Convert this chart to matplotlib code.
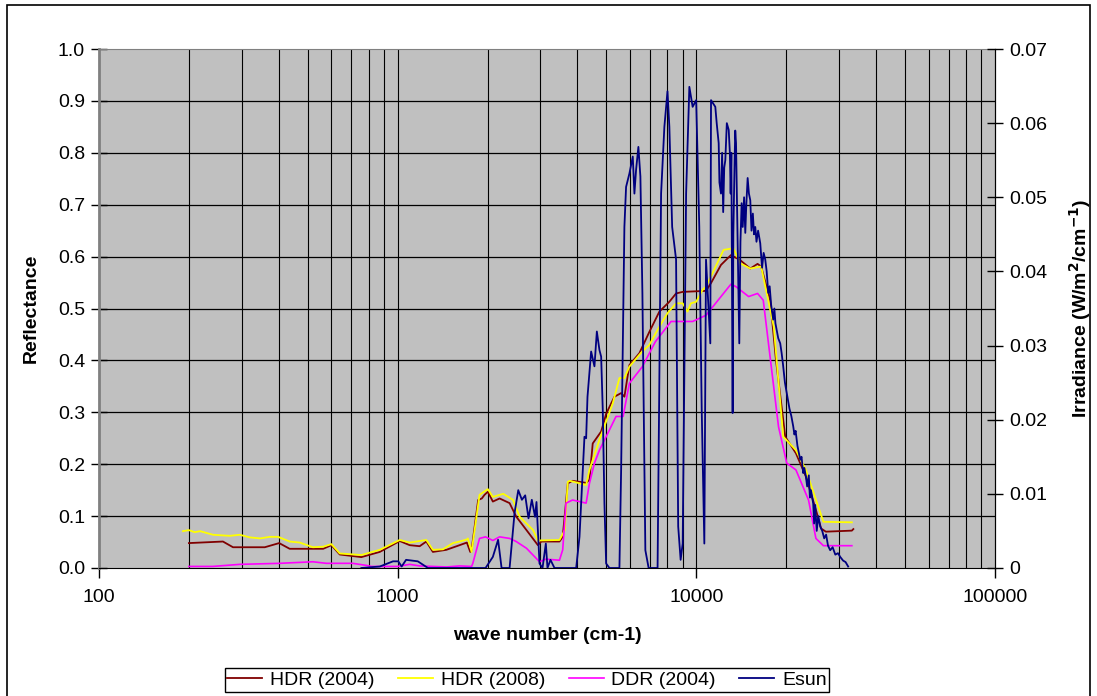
import numpy as np
import matplotlib
matplotlib.use("Agg")
import matplotlib.pyplot as plt
from matplotlib.patches import Rectangle
from matplotlib.ticker import FixedLocator, FuncFormatter, NullLocator

plt.rcParams['font.family'] = ['Liberation Sans', 'DejaVu Sans']

# HDR (2004) reflectance
hdr04_wn = [200, 260, 281, 359, 401, 435, 563, 600, 640, 756, 871, 1016, 1097, 1185,
            1247, 1312, 1455, 1612, 1705, 1750, 1768, 1860, 1913, 1954, 2004, 2083,
            2194, 2370, 2494, 2700, 2948, 3026, 3481, 3569, 3712, 3850, 4276, 4386,
            4499, 4801, 4989, 5318, 5600, 5743, 5969, 6447, 6962, 7520, 8122, 8554,
            9001, 10775, 11199, 12093, 13062, 14035, 15158, 16032, 16480, 17679,
            18476, 19847, 21552, 23278, 25138, 26181, 27147, 33166, 33550]
hdr04_r = [0.048, 0.051, 0.040, 0.040, 0.048, 0.037, 0.037, 0.044, 0.026, 0.021, 0.031,
           0.052, 0.044, 0.042, 0.051, 0.031, 0.035, 0.044, 0.049, 0.031, 0.035, 0.131,
           0.134, 0.141, 0.147, 0.128, 0.134, 0.125, 0.099, 0.073, 0.044, 0.051, 0.051,
           0.060, 0.163, 0.168, 0.164, 0.170, 0.240, 0.263, 0.297, 0.330, 0.337, 0.330,
           0.391, 0.414, 0.455, 0.494, 0.513, 0.529, 0.532, 0.534, 0.549, 0.584, 0.603,
           0.593, 0.577, 0.586, 0.581, 0.516, 0.401, 0.253, 0.221, 0.176, 0.112, 0.076,
           0.070, 0.072, 0.075]

# HDR (2008) reflectance
hdr08_wn = [191, 200, 209, 218, 241, 274, 296, 320, 346, 373, 398, 435, 470, 520, 563,
            600, 640, 756, 871, 1016, 1097, 1247, 1312, 1418, 1531, 1612, 1705, 1718,
            1768, 1880, 2004, 2083, 2258, 2436, 2559, 2841, 2948, 3481, 3628, 3712,
            3769, 4276, 4386, 4738, 5249, 5527, 5743, 5969, 6513, 6962, 7520, 8006,
            8554, 9001, 9343, 9590, 9988, 10495, 10775, 12340, 13299, 14035, 15158,
            16480, 18163, 19543, 21552, 23278, 26632, 33166]
hdr08_r = [0.071, 0.073, 0.069, 0.071, 0.064, 0.062, 0.064, 0.059, 0.057, 0.060, 0.060,
           0.051, 0.049, 0.040, 0.041, 0.046, 0.028, 0.025, 0.035, 0.054, 0.049, 0.054,
           0.035, 0.036, 0.048, 0.051, 0.055, 0.057, 0.031, 0.141, 0.152, 0.137, 0.143,
           0.131, 0.099, 0.073, 0.053, 0.054, 0.073, 0.166, 0.168, 0.160, 0.189, 0.247,
           0.317, 0.366, 0.366, 0.388, 0.414, 0.430, 0.465, 0.491, 0.510, 0.510, 0.494,
           0.510, 0.513, 0.536, 0.542, 0.613, 0.616, 0.587, 0.577, 0.581, 0.465, 0.253,
           0.227, 0.189, 0.089, 0.088]

# DDR (2004) reflectance
ddr04_wn = [200, 240, 296, 403, 520, 577, 707, 786, 817, 1000, 1097, 1185, 1312, 1458,
            1612, 1768, 1785, 1880, 1969, 2083, 2194, 2370, 2494, 2700, 2985, 3134,
            3481, 3569, 3663, 3850, 4276, 4386, 4559, 4738, 4989, 5384, 5685, 5969,
            6598, 7291, 8228, 9719, 10775, 13062, 13580, 14967, 16032, 16752, 18846,
            20080, 21552, 23750, 25138, 26632, 33166]
ddr04_r = [0.003, 0.003, 0.007, 0.009, 0.012, 0.009, 0.009, 0.005, 0.003, 0.003, 0.007,
           0.004, 0.003, 0.002, 0.004, 0.003, 0.009, 0.057, 0.060, 0.053, 0.060, 0.057,
           0.051, 0.038, 0.012, 0.017, 0.015, 0.035, 0.125, 0.131, 0.125, 0.163, 0.202,
           0.227, 0.253, 0.292, 0.292, 0.356, 0.388, 0.436, 0.475, 0.475, 0.487, 0.547,
           0.542, 0.523, 0.529, 0.516, 0.272, 0.202, 0.189, 0.131, 0.057, 0.043, 0.043]

# Esun irradiance (W/m2/cm-1)
esun_wn = [756, 871, 965, 1005, 1031, 1067, 1168, 1263, 1969, 2083, 2169, 2228, 2370,
           2462, 2534, 2606, 2673, 2742, 2813, 2884, 2916, 2985, 3055, 3134, 3174, 3248,
           3350, 3960, 4062, 4157, 4221, 4276, 4321, 4444, 4559, 4644, 4738, 4801, 4861,
           4924, 4989, 5117, 5527, 5600, 5743, 5818, 5969, 6126, 6204, 6284, 6397, 6497,
           6598, 6750, 6923, 7417, 7621, 7816, 8006, 8122, 8300, 8554, 8695, 8860, 9001,
           9242, 9476, 9719, 9988, 10230, 10424, 10636, 10775, 11138, 11199, 11575,
           11700, 11880, 11950, 12093, 12200, 12300, 12400, 12503, 12650, 12835, 12950,
           13028, 13100, 13230, 13300, 13433, 13500, 13580, 13700, 13926, 14050, 14179,
           14300, 14450, 14585, 14700, 14853, 15000, 15158, 15300, 15462, 15600, 15752,
           15900, 16100, 16368, 16600, 16800, 17011, 17200, 17408, 17600, 17800, 18090,
           18250, 18400, 18600, 18800, 19093, 19300, 19500, 19800, 20080, 20300, 20500,
           20800, 21107, 21300, 21500, 21800, 22277, 22500, 22800, 23000, 23278, 23500,
           23800, 24000, 24200, 24618, 24800, 25000, 25300, 25600, 25983, 26400, 26800,
           27200, 27600, 28067, 28600, 29200, 29800, 30315, 31000, 31600, 32236]
esun_e = [0.0, 0.0002, 0.0009, 0.0009, 0.0002, 0.0011, 0.0009, 0.0, 0.0, 0.0015, 0.0038,
          0.0, 0.0, 0.0074, 0.0105, 0.0092, 0.0098, 0.0067, 0.0092, 0.0069, 0.0089,
          0.0006, 0.0, 0.0033, 0.0, 0.0011, 0.0, 0.0, 0.0042, 0.0123, 0.0177, 0.0175,
          0.0231, 0.0292, 0.0272, 0.0319, 0.0294, 0.0285, 0.0213, 0.0087, 0.0006, 0.0,
          0.0, 0.0132, 0.0460, 0.0514, 0.0532, 0.0555, 0.0505, 0.0537, 0.0568, 0.0528,
          0.0371, 0.0024, 0.0, 0.0, 0.0505, 0.0595, 0.0643, 0.0595, 0.0460, 0.0416,
          0.0056, 0.0011, 0.0033, 0.0505, 0.0649, 0.0622, 0.0631, 0.0460, 0.0213, 0.0033,
          0.0416, 0.0303, 0.0631, 0.0622,
          0.0600, 0.0573, 0.0520, 0.0505, 0.0560, 0.0480, 0.0540, 0.0550, 0.0600, 0.0591,
          0.0560, 0.0505, 0.0560, 0.0209, 0.0450, 0.0550, 0.0590, 0.0573, 0.0480, 0.0303,
          0.0440, 0.0492, 0.0460, 0.0500, 0.0452, 0.0490, 0.0526, 0.0505, 0.0496, 0.0455,
          0.0478, 0.0450, 0.0460, 0.0440, 0.0455, 0.0438, 0.0405, 0.0425, 0.0416, 0.0400,
          0.0371, 0.0380, 0.0355, 0.0335, 0.0350, 0.0330, 0.0320, 0.0310, 0.0303, 0.0290,
          0.0275, 0.0250, 0.0236, 0.0225, 0.0215, 0.0205, 0.0191, 0.0180, 0.0185, 0.0165,
          0.0146, 0.0150, 0.0128, 0.0135, 0.0123, 0.0110, 0.0125, 0.0095, 0.0105, 0.0087,
          0.0060, 0.0085, 0.0050, 0.0070, 0.0056, 0.0050, 0.0040, 0.0045, 0.0030, 0.0024,
          0.0028, 0.0018, 0.0020, 0.0015, 0.0010, 0.0008, 0.0002]

fig = plt.figure(figsize=(10.97, 6.96), dpi=100)
ax = fig.add_axes([99 / 1097, 1 - 568 / 696, 896 / 1097, 519 / 696])
ax.set_facecolor('#C0C0C0')

# outer chart border
fig.patches.append(Rectangle((7 / 1097, -0.02), 1083 / 1097, 1.02 - 5 / 696,
                             transform=fig.transFigure, fill=False,
                             edgecolor='black', linewidth=1.2))

l1, = ax.plot(hdr04_wn, hdr04_r, color='#800000', lw=1.3, label='HDR (2004)')
l2, = ax.plot(hdr08_wn, hdr08_r, color='#FFFF00', lw=1.3, label='HDR (2008)')
l3, = ax.plot(ddr04_wn, ddr04_r, color='#FF00FF', lw=1.2, label='DDR (2004)')

ax.set_xscale('log')
ax.set_xlim(100, 100000)
ax.set_ylim(0, 1.0)
ax.xaxis.set_major_locator(FixedLocator([100, 1000, 10000, 100000]))
ax.xaxis.set_major_formatter(FuncFormatter(lambda v, p: '%d' % v))
ax.xaxis.set_minor_locator(NullLocator())
ax.set_yticks(np.arange(0, 1.01, 0.1))
ax.yaxis.set_major_formatter(FuncFormatter(lambda v, p: '%.1f' % v))

# gridlines (Excel style: every log step vertically)
for dec in [100, 1000, 10000]:
    for m in range(1, 10):
        if dec * m > 100:
            ax.axvline(dec * m, color='black', lw=0.8, zorder=0.5)
for yv in np.arange(0.1, 1.0, 0.1):
    ax.axhline(yv, color='black', lw=0.9, zorder=0.5)

ax.tick_params(axis='y', direction='inout', length=12, width=1, labelsize=14, pad=4)
ax.tick_params(axis='x', direction='out', length=7, width=1, labelsize=14, pad=8)
ax.spines['left'].set_color('#808080')
ax.spines['left'].set_linewidth(2)
ax.spines['top'].set_color('#808080')
ax.spines['right'].set_color('black')
ax.spines['bottom'].set_color('black')

ax2 = ax.twinx()
l4, = ax2.plot(esun_wn, esun_e, color='#000080', lw=1.3, label='Esun')
ax2.set_ylim(0, 0.07)
ax2.set_yticks(np.arange(0, 0.0701, 0.01))
ax2.yaxis.set_major_formatter(FuncFormatter(lambda v, p: '0' if abs(v) < 1e-9 else '%.2f' % v))
ax2.tick_params(axis='y', direction='inout', length=12, width=1, labelsize=14, pad=4)
ax2.spines['left'].set_visible(False)
ax2.spines['top'].set_visible(False)
ax2.spines['bottom'].set_visible(False)

fig.text(547 / 1097, 1 - 635 / 696, 'wave number (cm-1)', ha='center', va='center',
         fontsize=14, fontweight='bold')
fig.text(31 / 1097, 1 - 308 / 696, 'Reflectance', ha='center', va='center',
         rotation=90, fontsize=14, fontweight='bold')
fig.text(1080 / 1097, 1 - 308 / 696, r'Irradiance (W/m$^{\mathbf{2}}$/cm$^{\mathbf{-1}}$)',
         ha='center', va='center', rotation=90, fontsize=14, fontweight='bold')

leg = fig.legend(handles=[l1, l2, l3, l4], loc='center', ncol=4,
                 bbox_to_anchor=(527 / 1097, 1 - 680 / 696), fontsize=14,
                 frameon=True, fancybox=False, edgecolor='black', framealpha=1,
                 handlelength=1.8, handletextpad=0.4, columnspacing=1.2,
                 borderpad=0.15)
leg.get_frame().set_linewidth(1.0)

fig.savefig('out.png', dpi=100)
